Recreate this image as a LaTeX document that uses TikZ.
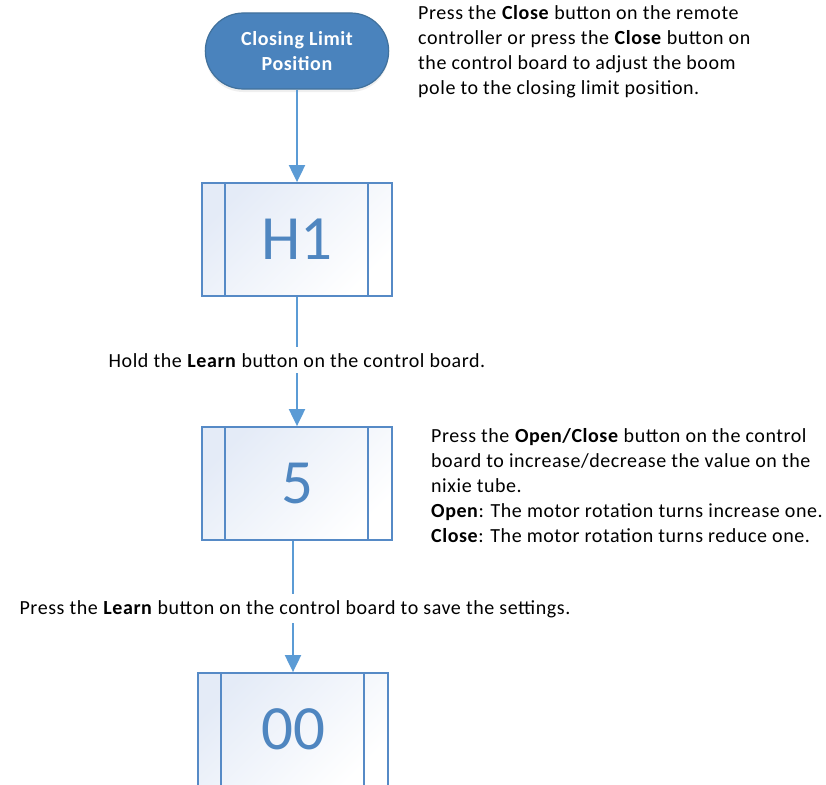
\documentclass[tikz,border=0pt]{standalone}
\usepackage{fontspec}
\setmainfont{Carlito}[LetterSpace=2.8]
\usetikzlibrary{arrows.meta,shadows,shapes.misc,calc}
\definecolor{conncol}{RGB}{91,155,213}
\definecolor{boxline}{RGB}{86,138,198}
\definecolor{digitcol}{RGB}{79,134,192}
\definecolor{termfill}{RGB}{74,131,189}
\definecolor{termline}{RGB}{65,113,156}
\definecolor{shadecol}{RGB}{228,235,247}
\tikzset{
  conn/.style={draw=conncol, line width=2pt, -{Triangle[length=17pt,width=16pt]}},
  term/.style={rounded rectangle, draw=termline, line width=1.2pt, fill=termfill,
    minimum width=190pt, minimum height=76pt, text=white, align=center,
    font=\fontsize{20}{25}\selectfont\bfseries,
    drop shadow={opacity=0.12, shadow xshift=0pt, shadow yshift=-3pt}},
  digitbox/.style={rectangle, draw=boxline, line width=1.8pt,
    top color=shadecol, bottom color=white, shading angle=45,
    minimum width=190pt, minimum height=113pt, inner sep=0pt,
    text=digitcol, font=\fontsize{63}{63}\selectfont\addfontfeatures{LetterSpace=0},
    path picture={
      \draw[boxline, line width=1.8pt]
        ([xshift=23pt]path picture bounding box.north west) --
        ([xshift=23pt]path picture bounding box.south west);
      \draw[boxline, line width=1.8pt]
        ([xshift=-24pt]path picture bounding box.north east) --
        ([xshift=-24pt]path picture bounding box.south east);
    }},
  note/.style={align=left, inner sep=0pt, text=black,
    font=\fontsize{20}{25}\selectfont},
  lbl/.style={fill=white, inner xsep=3pt, inner ysep=6pt, text=black,
    font=\fontsize{20}{25}\selectfont}
}
\begin{document}
\begin{tikzpicture}[x=1pt,y=-1pt]
\useasboundingbox (0,0) rectangle (826,784);
\fill[white] (0,0) rectangle (826,784);

% nodes
\node[term] (t) at (297,51) {Closing Limit\\Position};
\node[digitbox] (h1) at (297,239.5) {H1};
\node[digitbox] (b5) at (297,483.5) {5};
\node[digitbox] (b00) at (293,729.5) {00};

% connectors
\draw[conn] (t.south) -- (h1.north);
\draw[conn] (h1.south -| b5.north) -- (b5.north);
\draw[conn] (b5.south -| b00.north) -- (b00.north);

% labels on connectors
\node[lbl, anchor=base] (l1) at (297,367) {Hold the \textbf{Learn} button on the control board.};
\node[lbl, anchor=base] (l2) at (295,614) {Press the \textbf{Learn} button on the control board to save the settings.};

% side notes
\node[note, anchor=north west] (n1) at (418,5) {Press the \textbf{Close} button on the remote\\controller or press the \textbf{Close} button on\\the control board to adjust the boom\\pole to the closing limit position.};
\node[note, anchor=north west] (n2) at (431,428) {Press the \textbf{Open/Close} button on the control\\board to increase/decrease the value on the\\nixie tube.\\\textbf{Open}: The motor rotation turns increase one.\\\textbf{Close}: The motor rotation turns reduce one.};
\end{tikzpicture}
\end{document}
